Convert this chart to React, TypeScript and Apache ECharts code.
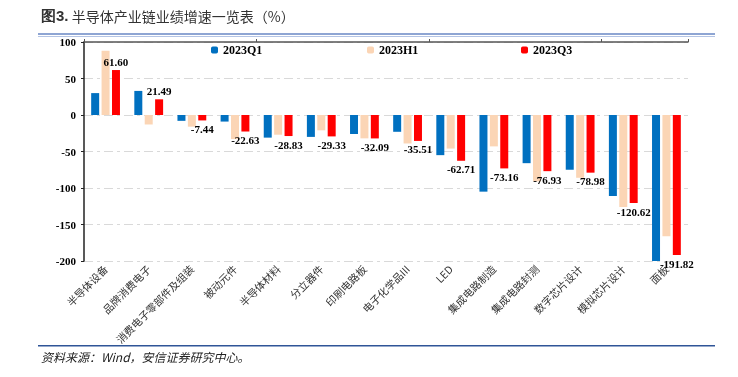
import React, { useEffect, useRef } from "react";
import * as echarts from "echarts";

const categories = [
  "半导体设备",
  "品牌消费电子",
  "消费电子零部件及组装",
  "被动元件",
  "半导体材料",
  "分立器件",
  "印刷电路板",
  "电子化学品III",
  "LED",
  "集成电路制造",
  "集成电路封测",
  "数字芯片设计",
  "模拟芯片设计",
  "面板",
];
const seriesNames = ["2023Q1", "2023H1", "2023Q3"];
const q1 = [30, 33, -8, -9, -31, -30, -26, -23, -55, -105, -66, -75, -111, -200];
const h1 = [88, -13, -16, -33, -27, -21, -32, -39, -46, -43, -91, -86, -126, -166];
const q3 = [61.6, 21.49, -7.44, -22.63, -28.83, -29.33, -32.09, -35.51, -62.71, -73.16, -76.93, -78.98, -120.62, -191.82];
const yTicks = { min: -200, max: 100, interval: 50 };
const colors = ["#0070C0", "#FBD5B5", "#FF0000"];

export default function App() {
  const ref = useRef<HTMLDivElement>(null);
  useEffect(() => {
    if (!ref.current) return;
    const chart = echarts.init(ref.current, null, { renderer: "svg" });
    const serif = "'Liberation Serif', 'Times New Roman', serif";
    const cjk = "'Noto Sans CJK SC', sans-serif";
    const legendCommon = {
      top: 39,
      itemWidth: 7,
      itemHeight: 7,
      itemGap: 5,
      textStyle: { fontFamily: serif, fontWeight: "bold", fontSize: 12, color: "#000" },
    };
    chart.setOption({
      animation: false,
      color: colors,
      legend: [
        { ...legendCommon, left: 206, data: [seriesNames[0]] },
        { ...legendCommon, left: 362, data: [seriesNames[1]] },
        { ...legendCommon, left: 516, data: [seriesNames[2]] },
      ],
      grid: { left: 84, right: 50, top: 42, bottom: 116 },
      xAxis: [
        {
          type: "category",
          data: categories,
          position: "bottom",
          axisLine: { show: false },
          axisTick: { show: false },
          axisLabel: {
            rotate: 45,
            interval: 0,
            margin: 6,
            fontFamily: cjk,
            fontSize: 10.5,
            color: "#333",
          },
        },
        {
          type: "category",
          data: categories,
          axisLine: { onZero: true, lineStyle: { color: "#555", width: 1.5 } },
          axisTick: { show: true, length: 3, lineStyle: { color: "#555" } },
          axisLabel: { show: false },
        },
      ],
      yAxis: {
        type: "value",
        min: yTicks.min,
        max: yTicks.max,
        interval: yTicks.interval,
        axisLine: { show: true, lineStyle: { color: "#222", width: 1.5 } },
        axisTick: { show: true, length: 3, lineStyle: { color: "#222" } },
        axisLabel: { fontFamily: serif, fontWeight: "bold", fontSize: 11, color: "#000", margin: 8 },
        splitLine: { lineStyle: { color: "#d9d9d9", type: [9, 4, 3, 4], width: 1 } },
      },
      series: [
        { name: seriesNames[0], type: "bar", data: q1, barWidth: 8, barGap: "30%", xAxisIndex: 0 },
        { name: seriesNames[1], type: "bar", data: h1, barWidth: 8, barGap: "30%", xAxisIndex: 0 },
        {
          name: seriesNames[2],
          type: "bar",
          barWidth: 8,
          barGap: "30%",
          xAxisIndex: 0,
          data: q3.map((v) => ({
            value: v,
            label: { position: v >= 0 ? "top" : "bottom" },
          })),
          label: {
            show: true,
            distance: 3,
            formatter: (p: any) => Number(p.value).toFixed(2),
            fontFamily: serif,
            fontWeight: "bold",
            fontSize: 11,
            color: "#000",
          },
        },
      ],
      graphic: [
        {
          type: "text",
          left: 41,
          top: 8,
          style: {
            text: "{a|图3.} {b|半导体产业链业绩增速一览表（%）}",
            rich: {
              a: { fontFamily: "'Liberation Sans', Arial, sans-serif", fontWeight: "bold", fontSize: 15, fill: "#333" },
              b: { fontFamily: cjk, fontSize: 14, fill: "#333" },
            },
          },
        },
        { type: "rect", shape: { x: 38, y: 33, width: 677, height: 2 }, style: { fill: "#8EA5D3" } },
        { type: "rect", shape: { x: 38, y: 36, width: 677, height: 1 }, style: { fill: "#B4C4E4" } },
        { type: "rect", shape: { x: 38, y: 345, width: 677, height: 1.5 }, style: { fill: "#2F5597" } },
        {
          type: "text",
          left: 41,
          top: 350,
          style: {
            text: "资料来源：Wind，安信证券研究中心。",
            fontFamily: cjk,
            fontStyle: "italic",
            fontSize: 12,
            fill: "#222",
          },
        },
      ],
    });
    return () => chart.dispose();
  }, []);
  return <div ref={ref} style={{ position: "fixed", left: 0, top: 0, width: 738, height: 377 }} />;
}
